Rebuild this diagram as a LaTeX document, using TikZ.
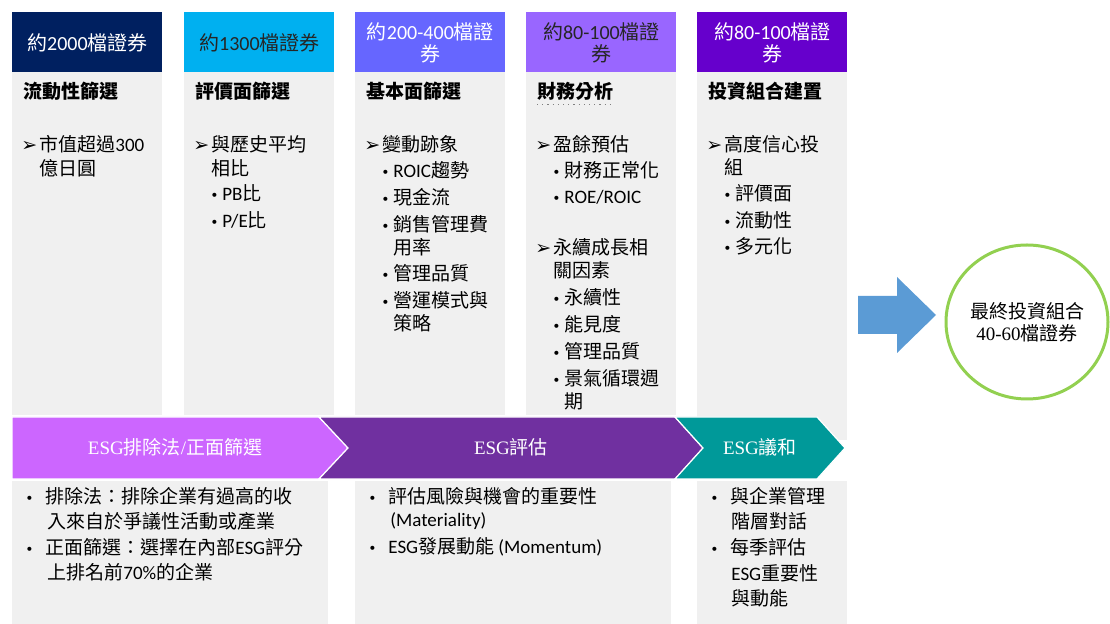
\documentclass[tikz,border=0pt]{standalone}
\usepackage{fontspec}
\setmainfont{Noto Sans CJK TC}
\newfontfamily\latfont{Carlito}
\newfontfamily\serfont{Liberation Serif}
\newfontfamily\symfont{DejaVu Sans}
\usepackage{tikz}
\usetikzlibrary{positioning,calc,shapes.geometric}

\definecolor{hdnavy}{HTML}{002060}
\definecolor{hdcyan}{HTML}{00B0F0}
\definecolor{hdblue}{HTML}{6666FF}
\definecolor{hdlilac}{HTML}{9966FF}
\definecolor{hdpurple}{HTML}{6600CC}
\definecolor{boxgray}{HTML}{F0F0F0}
\definecolor{chvpink}{HTML}{CC66FF}
\definecolor{chvplum}{HTML}{7030A0}
\definecolor{chvteal}{HTML}{009999}
\definecolor{arrblue}{HTML}{5B9BD5}
\definecolor{ringgreen}{HTML}{92D050}

\newcommand{\lt}[1]{{\latfont #1}}
\newcommand{\sr}[1]{{\serfont #1}}
\newcommand{\arrmark}{\makebox[9pt][l]{\symfont\fontsize{9.5}{10}\selectfont\char"27A2}}
\newcommand{\bulmark}{\makebox[6pt][l]{\symfont\fontsize{7}{7}\selectfont •}}
\newcommand{\bmark}{\makebox[10pt][l]{\symfont\fontsize{7}{7}\selectfont •}}

\begin{document}
\begin{tikzpicture}[x=0.5pt,y=-0.5pt,
        header/.style={anchor=north west, minimum width=75pt, minimum height=30pt, inner sep=0pt, align=center, font=\fontsize{10}{11}\selectfont},
        graybox/.style={anchor=north west, fill=boxgray, inner sep=0pt, minimum width=75pt},
        title/.style={anchor=west, inner sep=0pt, font=\fontsize{9.5}{11}\selectfont\bfseries},
        txt/.style={anchor=west, inner sep=0pt, font=\fontsize{9.5}{11}\selectfont},
        chvtxt/.style={inner sep=0pt, text=white, font=\fontsize{9.5}{11}\selectfont},
        chevron/.style={draw=white, line width=0.6pt},
    ]
    \useasboundingbox (0,0) rectangle (1110,624);

    % Gray boxes
    \node[graybox, minimum height=171.5pt] (b1) at (12,72) {};
    \node[graybox, minimum height=171.5pt] (b2) at (184,72) {};
    \node[graybox, minimum height=171.5pt] (b3) at (355,72) {};
    \node[graybox, minimum height=171.5pt] (b4) at (526,72) {};
    \node[graybox, minimum height=184pt] (b5) at (697,72) {};
    \node[graybox, minimum width=158pt, minimum height=71.5pt] (b6) at (12,481) {};
    \node[graybox, minimum width=158pt, minimum height=71.5pt] (b7) at (355,481) {};
    \node[graybox, minimum height=71.5pt] (b8) at (697,481) {};

    % Headers
    \node[header, fill=hdnavy, text=white] (h1) at (12,12) {約\lt{2000}檔證券};
    \node[header, fill=hdcyan, text=black!85] (h2) at (184,12) {約\lt{1300}檔證券};
    \node[header, fill=hdblue, text=white] (h3) at (355,12) {約\lt{200-400}檔證\\券};
    \node[header, fill=hdlilac, text=black!85] (h4) at (526,12) {約\lt{80-100}檔證\\券};
    \node[header, fill=hdpurple, text=white] (h5) at (697,12) {約\lt{80-100}檔證\\券};

    % Column 1
    \node[title] (t1) at (23,91) {流動性篩選};
    \node[txt] (c1a) at (21,144) {\arrmark 市值超過\lt{300}};
    \node[txt] (c1b) at (39,168) {億日圓};

    % Column 2
    \node[title] (t2) at (195,91) {評價面篩選};
    \node[txt] (c2a) at (193,144) {\arrmark 與歷史平均};
    \node[txt] (c2b) at (211,168) {相比};
    \node[txt] (c2c) at (210,193) {\bulmark\lt{PB}比};
    \node[txt] (c2d) at (210,220) {\bulmark\lt{P/E}比};

    % Column 3
    \node[title] (t3) at (366,91) {基本面篩選};
    \node[txt] (c3a) at (364,144) {\arrmark 變動跡象};
    \node[txt] (c3b) at (381,170) {\bulmark\lt{ROIC}趨勢};
    \node[txt] (c3c) at (381,197) {\bulmark 現金流};
    \node[txt] (c3d) at (381,224) {\bulmark 銷售管理費};
    \node[txt] (c3e) at (393,247) {用率};
    \node[txt] (c3f) at (381,273) {\bulmark 管理品質};
    \node[txt] (c3g) at (381,300) {\bulmark 營運模式與};
    \node[txt] (c3h) at (393,323) {策略};

    % Column 4
    \node[title] (t4) at (537,91) {財務分析};
    \node[txt] (c4a) at (535,144) {\arrmark 盈餘預估};
    \node[txt] (c4b) at (552,170) {\bulmark 財務正常化};
    \node[txt] (c4c) at (552,197) {\bulmark\lt{ROE/ROIC}};
    \node[txt] (c4d) at (535,247) {\arrmark 永續成長相};
    \node[txt] (c4e) at (553,270) {關因素};
    \node[txt] (c4f) at (552,297) {\bulmark 永續性};
    \node[txt] (c4g) at (552,324) {\bulmark 能見度};
    \node[txt] (c4h) at (552,351) {\bulmark 管理品質};
    \node[txt] (c4i) at (552,378) {\bulmark 景氣循環週};
    \node[txt] (c4j) at (564,401) {期};
    \draw[gray, dotted, line width=0.6pt] ($(t4.south west)+(0,4)$) -- ($(t4.south east)+(0,4)$);

    % Column 5
    \node[title] (t5) at (708,91) {投資組合建置};
    \node[txt] (c5a) at (706,144) {\arrmark 高度信心投};
    \node[txt] (c5b) at (724,167) {組};
    \node[txt] (c5c) at (723,193) {\bulmark 評價面};
    \node[txt] (c5d) at (723,220) {\bulmark 流動性};
    \node[txt] (c5e) at (723,246) {\bulmark 多元化};

    % Chevrons
    \fill[chvpink, chevron] (12,417) -- (319,417) -- (348,448) -- (319,479) -- (12,479) -- cycle;
    \fill[chvplum, chevron] (319,417) -- (675,417) -- (703,448) -- (675,479) -- (319,479) -- (348,448) -- cycle;
    \fill[chvteal, chevron] (675,417) -- (817,417) -- (845,448) -- (817,479) -- (675,479) -- (703,448) -- cycle;
    \node[chvtxt] (e1) at (175,447) {\sr{ESG}排除法\sr{/}正面篩選};
    \node[chvtxt] (e2) at (511,447) {\sr{ESG}評估};
    \node[chvtxt] (e3) at (760,447) {\sr{ESG}議和};

    % Bottom texts
    \node[txt] (d1a) at (25,496) {\bmark 排除法：排除企業有過高的收};
    \node[txt] (d1b) at (47,521) {入來自於爭議性活動或產業};
    \node[txt] (d1c) at (25,547) {\bmark 正面篩選：選擇在內部\lt{ESG}評分};
    \node[txt] (d1d) at (47,572) {上排名前\lt{70\%}的企業};

    \node[txt] (d2a) at (368,496) {\bmark 評估風險與機會的重要性};
    \node[txt] (d2b) at (390,521) {\lt{(Materiality)}};
    \node[txt] (d2c) at (368,547) {\bmark\lt{ESG}發展動能 \lt{(Momentum)}};

    \node[txt] (d3a) at (710,496) {\bmark 與企業管理};
    \node[txt] (d3b) at (731,521) {階層對話};
    \node[txt] (d3c) at (710,547) {\bmark 每季評估};
    \node[txt] (d3d) at (731,573) {\lt{ESG}重要性};
    \node[txt] (d3e) at (731,598) {與動能};

    % Result
    \fill[arrblue] (858,296) -- (897,296) -- (897,277) -- (936,315) -- (897,353) -- (897,334) -- (858,334) -- cycle;
    \node[ellipse, draw=ringgreen, line width=1.5pt, inner sep=0pt, minimum width=81pt, minimum height=77pt, align=center, font=\fontsize{9.5}{11}\selectfont] (fin) at (1027,322) {最終投資組合\\\sr{40-60}檔證券};
\end{tikzpicture}
\end{document}
